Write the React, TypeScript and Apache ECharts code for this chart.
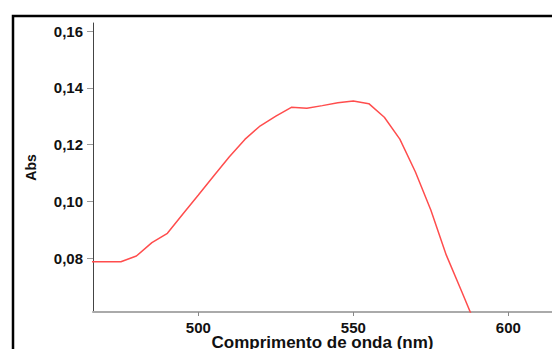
import React, { useEffect, useRef } from "react";
import * as echarts from "echarts";

const wavelengths = [465, 470, 475, 480, 485, 490, 495, 500, 505, 510, 515, 520, 525, 530, 535, 540, 545, 550, 555, 560, 565, 570, 575, 580, 585, 590];
const absorbance = [0.0787, 0.0787, 0.0787, 0.0807, 0.0854, 0.0887, 0.0955, 0.1022, 0.109, 0.1157, 0.1218, 0.1266, 0.13, 0.1331, 0.1328, 0.1337, 0.1347, 0.1353, 0.1344, 0.1296, 0.1219, 0.1104, 0.0969, 0.081, 0.0681, 0.055];
const xTicks = [500, 550, 600];
const yTicks = [0.08, 0.1, 0.12, 0.14, 0.16];

const FONT = "'Liberation Sans', Arial, sans-serif";

export default function App() {
  const ref = useRef<HTMLDivElement>(null);
  useEffect(() => {
    if (!ref.current) return;
    const chart = echarts.init(ref.current, undefined, { renderer: "svg" });
    chart.setOption({
      animation: false,
      backgroundColor: "#ffffff",
      grid: { left: 93, top: 23, right: 0, bottom: 37, outerBoundsMode: "none" },
      graphic: [
        {
          type: "rect",
          shape: { x: 13, y: 16, width: 620, height: 420 },
          style: { fill: "none", stroke: "#000", lineWidth: 2.5 },
          silent: true,
          z: 100,
        },
      ],
      xAxis: {
        type: "value",
        min: 466,
        max: 614.1,
        name: "Comprimento de onda (nm)",
        nameLocation: "middle",
        nameGap: 22,
        nameMoveOverlap: false,
        nameTextStyle: { fontFamily: FONT, fontWeight: "bold", fontSize: 17, color: "#111", verticalAlign: "top", lineHeight: 17 },
        splitLine: { show: false },
        axisLine: { show: true, lineStyle: { color: "#aaaaaa", width: 2 } },
        axisTick: { show: true, customValues: xTicks, length: 4, lineStyle: { color: "#888" } },
        axisLabel: {
          customValues: xTicks,
          margin: 8,
          fontFamily: FONT,
          fontWeight: "bold",
          fontSize: 15,
          color: "#111",
          formatter: (v: number) => String(Math.round(v)),
        },
      },
      yAxis: {
        type: "value",
        min: 0.06097,
        max: 0.16282,
        name: "Abs",
        nameLocation: "middle",
        nameGap: 55,
        nameRotate: 90,
        nameMoveOverlap: false,
        nameTextStyle: { fontFamily: FONT, fontWeight: "bold", fontSize: 14, color: "#111" },
        splitLine: { show: false },
        axisLine: { show: true, lineStyle: { color: "#444", width: 1 } },
        axisTick: { show: true, customValues: yTicks, length: 6, lineStyle: { color: "#999" } },
        axisLabel: {
          customValues: yTicks,
          margin: 10,
          fontFamily: FONT,
          fontWeight: "bold",
          fontSize: 15,
          color: "#111",
          formatter: (v: number) => v.toFixed(2).replace(".", ","),
        },
      },
      series: [
        {
          type: "line",
          data: wavelengths.map((w, i) => [w, absorbance[i]]),
          showSymbol: false,
          symbol: "none",
          clip: true,
          lineStyle: { color: "#ff4d4d", width: 1.5 },
        },
      ],
    });
    return () => chart.dispose();
  }, []);
  return <div ref={ref} style={{ width: 552, height: 349, position: "absolute", left: 0, top: 0 }} />;
}
